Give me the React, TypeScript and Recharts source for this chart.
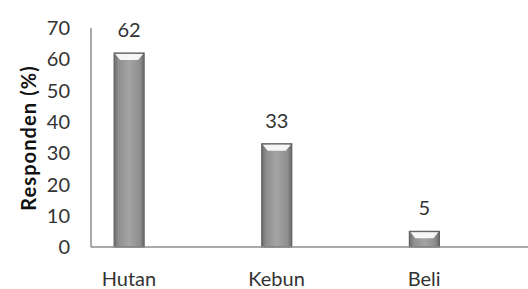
import React from 'react';
import { BarChart, Bar, XAxis, YAxis, LabelList } from 'recharts';

const categories = ['Hutan', 'Kebun', 'Beli'];
const values = [62, 33, 5];
const yTicks = [0, 10, 20, 30, 40, 50, 60, 70];

const data = categories.map((name, i) => ({ idx: i, name, value: values[i] }));

const FONT = 'Lato, "Liberation Sans", sans-serif';

const BevelBar = (props: any) => {
  const { x, y, width, height } = props;
  if (height <= 0) return null;
  const bevel = Math.min(7, height * 0.45);
  return (
    <g>
      <rect x={x} y={y} width={width} height={height} fill="url(#barGrad)" stroke="#626262" strokeWidth={1.2} />
      <path
        d={`M${x + 1},${y + 1} L${x + width - 1},${y + 1} L${x + width - 6},${y + bevel} L${x + 6},${y + bevel} Z`}
        fill="#f6f6f6"
      />
    </g>
  );
};

export default function App() {
  return (
    <div style={{ position: 'absolute', left: 0, top: 0, background: '#fff' }}>
      <BarChart width={528} height={289} data={data} margin={{ top: 28, right: 0, bottom: 0, left: 0 }}>
        <defs>
          <linearGradient id="barGrad" x1="0" y1="0" x2="1" y2="0">
            <stop offset="0%" stopColor="#6c6c6c" />
            <stop offset="15%" stopColor="#8f8f8f" />
            <stop offset="50%" stopColor="#a4a4a4" />
            <stop offset="85%" stopColor="#8f8f8f" />
            <stop offset="100%" stopColor="#6a6a6a" />
          </linearGradient>
        </defs>
        <XAxis
          dataKey="idx"
          type="number"
          domain={[-0.257, 2.703]}
          ticks={[0, 1, 2]}
          tickFormatter={(v: number) => categories[v]}
          tickLine={false}
          tickSize={0}
          tickMargin={25}
          height={42}
          axisLine={{ stroke: '#8c8c8c', strokeWidth: 1.5 }}
          tick={{ fill: '#333', fontSize: 20, fontFamily: FONT }}
          allowDataOverflow
        />
        <YAxis
          width={91}
          domain={[0, 70]}
          ticks={yTicks}
          tickLine={false}
          tickSize={0}
          tickMargin={21}
          axisLine={{ stroke: '#8c8c8c', strokeWidth: 1.5 }}
          tick={{ fill: '#333', fontSize: 20, fontFamily: FONT }}
          label={{
            content: (p: any) => {
              const vb = p.viewBox;
              const cx = 28;
              const cy = 138;
              return (
                <text
                  x={cx}
                  y={cy}
                  transform={`rotate(-90 ${cx} ${cy})`}
                  textAnchor="middle"
                  dominantBaseline="central"
                  fontSize={20}
                  fontWeight="bold"
                  letterSpacing={1.1}
                  fill="#111"
                  fontFamily={FONT}
                >
                  Responden (%)
                </text>
              );
            },
          }}
        />
        <Bar dataKey="value" barSize={30} shape={<BevelBar />} isAnimationActive={false}>
          <LabelList dataKey="value" position="top" offset={16} fill="#333" fontSize={20} fontFamily={FONT} />
        </Bar>
      </BarChart>
    </div>
  );
}
